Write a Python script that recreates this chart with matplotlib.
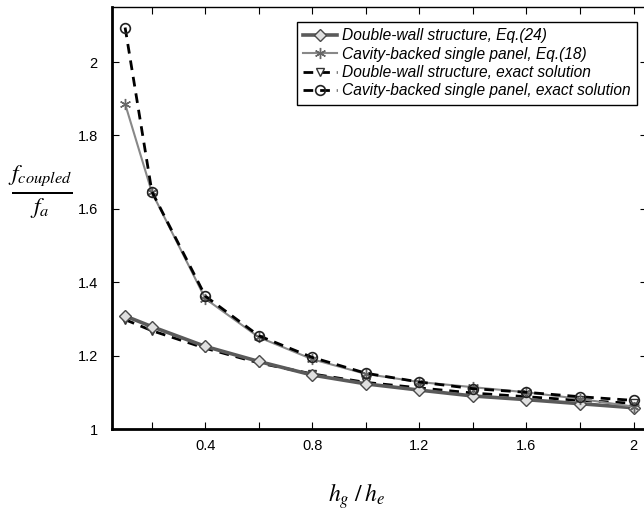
import matplotlib
matplotlib.use("Agg")
import matplotlib.pyplot as plt

x = [0.1, 0.2, 0.4, 0.6, 0.8, 1.0, 1.2, 1.4, 1.6, 1.8, 2.0]
dw_eq24 = [1.308, 1.279, 1.225, 1.184, 1.147, 1.123, 1.106, 1.090, 1.080, 1.069, 1.058]
cav_eq18 = [1.886, 1.645, 1.355, 1.250, 1.190, 1.150, 1.128, 1.114, 1.100, 1.082, 1.061]
dw_exact = [1.298, 1.268, 1.220, 1.180, 1.150, 1.127, 1.112, 1.098, 1.088, 1.078, 1.070]
cav_exact = [2.094, 1.647, 1.362, 1.254, 1.195, 1.152, 1.128, 1.110, 1.100, 1.088, 1.078]

labels = ["Double-wall structure, Eq.(24)",
          "Cavity-backed single panel, Eq.(18)",
          "Double-wall structure, exact solution",
          "Cavity-backed single panel, exact solution"]
xticks = [0.2, 0.4, 0.6, 0.8, 1.0, 1.2, 1.4, 1.6, 1.8, 2.0]
xtick_labels = ["", "0.4", "", "0.8", "", "1.2", "", "1.6", "", "2"]
yticks = [1.0, 1.2, 1.4, 1.6, 1.8, 2.0]
ytick_labels = ["1", "1.2", "1.4", "1.6", "1.8", "2"]

plt.rcParams['font.family'] = ['Liberation Sans', 'DejaVu Sans']
plt.rcParams['mathtext.fontset'] = 'stix'

fig = plt.figure(figsize=(6.44, 5.18), dpi=100)
ax = fig.add_axes([0.1735, 0.1718, 0.831, 0.8147])

ax.plot(x, dw_eq24, color='#5a5a5a', lw=2.6, marker='D', ms=6,
        mfc='#e0e0e0', mec='#4a4a4a', mew=1.0, label=labels[0], zorder=3)
ax.plot(x, cav_eq18, color='#888888', lw=1.5, marker=(6, 2, 0), ms=8,
        mec='#666666', mew=1.0, label=labels[1], zorder=4)
ax.plot(x, dw_exact, color='black', lw=2.0, ls=(0, (3.5, 2.5)), marker='v', ms=6,
        mfc='white', mec='#333333', mew=1.0, label=labels[2], zorder=2)
ax.plot(x, cav_exact, color='black', lw=2.0, ls=(0, (3.5, 2.5)), marker='o', ms=7,
        mfc='none', mec='#222222', mew=1.2, label=labels[3], zorder=5)

ax.set_xlim(0.05, 2.05)
ax.set_ylim(1.0, 2.15)
ax.set_xticks(xticks)
ax.set_xticklabels(xtick_labels)
ax.set_yticks(yticks)
ax.set_yticklabels(ytick_labels)
ax.tick_params(direction='in', length=5, width=0.8, top=True, right=True,
               labelsize=10.5, pad=7, colors='black')
ax.tick_params(axis='y', pad=10)
for s in ['left', 'bottom']:
    ax.spines[s].set_linewidth(2.0)
for s in ['top', 'right']:
    ax.spines[s].set_linewidth(1.0)

leg = ax.legend(loc='upper right', bbox_to_anchor=(0.9955, 0.983),
                prop={'style': 'italic', 'size': 11.2}, handlelength=2.2,
                handletextpad=0.3, borderpad=0.4, labelspacing=0.22,
                fancybox=False, framealpha=1, edgecolor='black')
leg.get_frame().set_linewidth(1.0)

fig.text(0.062, 0.630, r'$\frac{f_{coupled}}{f_a}$', fontsize=24,
         ha='center', va='center')
fig.text(0.553, 0.042, r'$h_g\ /\,h_e$', fontsize=17, ha='center', va='center')

fig.savefig('out.png', dpi=100)
